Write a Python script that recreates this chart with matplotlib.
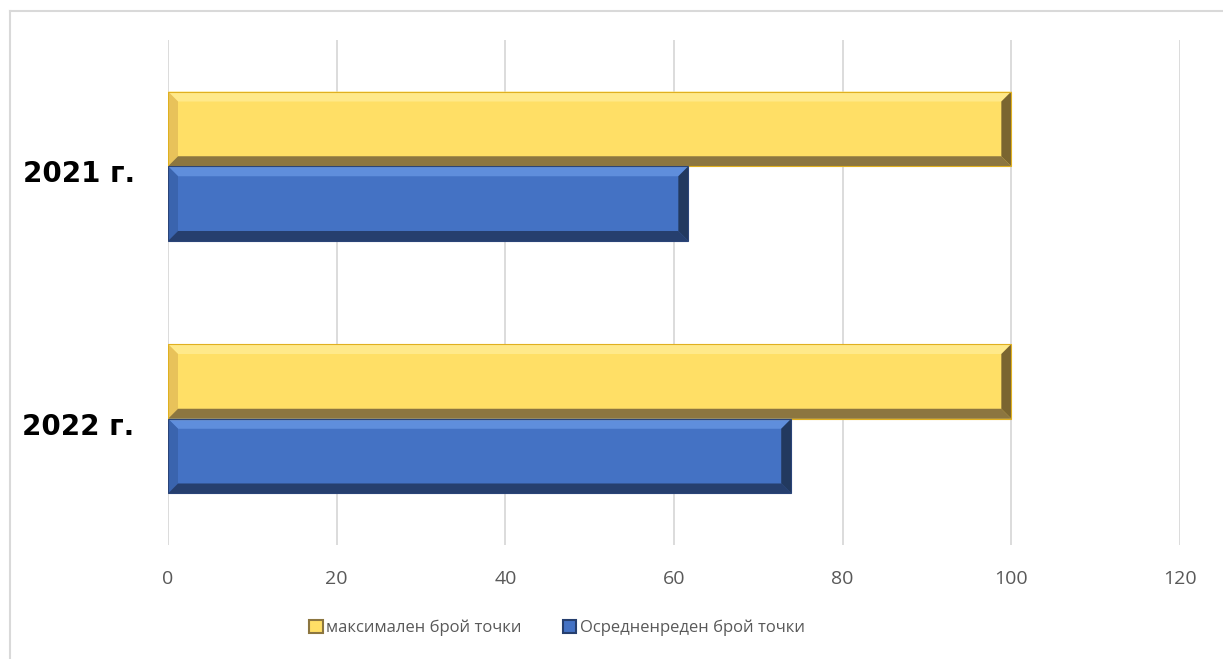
import numpy as np
import matplotlib.pyplot as plt
import matplotlib.transforms as mtransforms
from matplotlib.patches import Polygon, Rectangle
from matplotlib.lines import Line2D

plt.rcParams['font.family'] = ['Open Sans', 'DejaVu Sans']

categories = ['2021 г.', '2022 г.']
max_points = [100, 100]
avg_points = [61.7, 73.9]
series_names = ['максимален брой точки', 'Осредненреден брой точки']

yellow = dict(face='#FFDF66', top='#FFE98A', left='#E8C25A', bottom='#8C7640', right='#7A6530', edge='#E0B020')
blue = dict(face='#4472C4', top='#5F8EDC', left='#3A64AE', bottom='#263F6E', right='#22395F', edge='#2A4478')

fig = plt.figure(figsize=(12.23, 6.59), dpi=100)
ax = fig.add_axes([168/1223, 1-545/659, 1012/1223, 505/659])

y = np.arange(len(categories))
h = 0.296
b1 = ax.barh(y - h/2, max_points, height=h, color=yellow['face'], zorder=2)
b2 = ax.barh(y + h/2, avg_points, height=h, color=blue['face'], zorder=2)

ax.set_xlim(0, 120)
ax.set_ylim(1.5, -0.5)

# bevel size in data units (about 10 px)
sx = 120 / 1012 * 10
sy = 2.0 / 505 * 10


def bevel(bar, c):
    x0, w = bar.get_x(), bar.get_width()
    y0, hh = bar.get_y(), bar.get_height()
    x1, y1 = x0 + w, y0 + hh  # y0 is top on inverted axis
    parts = [
        ([(x0, y0), (x1, y0), (x1 - sx, y0 + sy), (x0 + sx, y0 + sy)], c['top']),
        ([(x0, y0), (x0 + sx, y0 + sy), (x0 + sx, y1 - sy), (x0, y1)], c['left']),
        ([(x0, y1), (x0 + sx, y1 - sy), (x1 - sx, y1 - sy), (x1, y1)], c['bottom']),
        ([(x1, y0), (x1, y1), (x1 - sx, y1 - sy), (x1 - sx, y0 + sy)], c['right']),
    ]
    for pts, col in parts:
        ax.add_patch(Polygon(pts, closed=True, facecolor=col, edgecolor='none', zorder=3))
    ax.add_patch(Rectangle((x0, y0), w, hh, fill=False, edgecolor=c['edge'], lw=0.8, zorder=4))


for bar in b1:
    bevel(bar, yellow)
for bar in b2:
    bevel(bar, blue)

ax.set_xticks(np.arange(0, 121, 20))
ax.xaxis.grid(True, color='#D9D9D9', lw=1.3, zorder=0)
ax.set_axisbelow(True)
for s in ax.spines.values():
    s.set_visible(False)
ax.tick_params(axis='x', length=0, labelsize=14, labelcolor='#595959', pad=18)

ax.set_yticks(y)
ax.set_yticklabels(categories, fontsize=20, fontweight='bold', family=['DejaVu Sans'])
ax.tick_params(axis='y', length=0, pad=24)
shift = mtransforms.ScaledTranslation(0, -5/100, fig.dpi_scale_trans)
for lbl in ax.get_yticklabels():
    lbl.set_transform(lbl.get_transform() + shift)

handles = [Rectangle((0, 0), 1, 1, facecolor=yellow['face'], edgecolor='#8C7640', lw=1.5),
           Rectangle((0, 0), 1, 1, facecolor=blue['face'], edgecolor='#263F6E', lw=1.5)]
fig.legend(handles, series_names, loc='center', bbox_to_anchor=(557/1223, 1-628/659),
           ncol=2, frameon=False, fontsize=12, labelcolor='#595959',
           handlelength=0.8, handleheight=0.8, handletextpad=0.2, columnspacing=2.5)

# outer chart border (left and top visible)
fig.add_artist(Line2D([10/1223, 10/1223], [0, 1-11/659], color='#D9D9D9', lw=1.5))
fig.add_artist(Line2D([10/1223, 1], [1-11/659, 1-11/659], color='#D9D9D9', lw=1.5))

fig.savefig('out.png', dpi=100)
